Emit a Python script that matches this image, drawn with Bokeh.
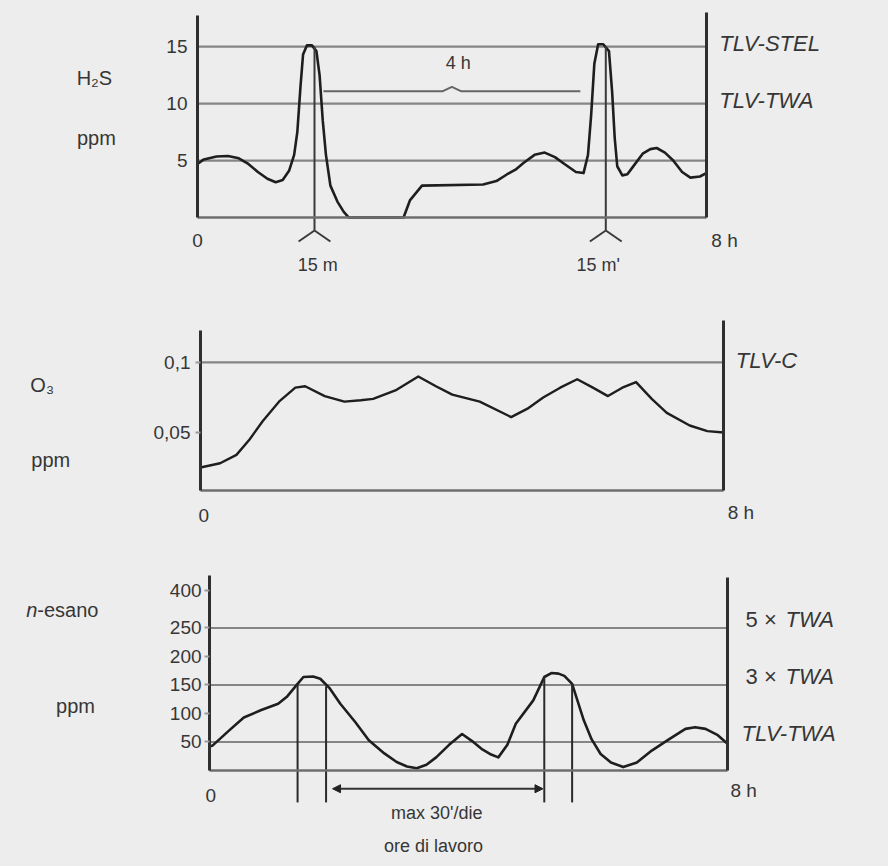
from bokeh.plotting import figure
from bokeh.layouts import column
from bokeh.models import (Label, Arrow, NormalHead, FixedTicker, Range1d, LinearAxis)
from bokeh.embed import file_html
from bokeh.resources import INLINE

# ---------------- data ----------------
# H2S panel (hours, ppm)
h2s_hours = [0, 0.1, 0.3, 0.48, 0.65, 0.8, 0.95, 1.1, 1.23, 1.34, 1.44, 1.52, 1.57, 1.62,
             1.66, 1.72, 1.8, 1.87, 1.92, 1.97, 2.02, 2.09, 2.2, 2.3, 2.38, 3.24, 3.34,
             3.53, 4.49, 4.7, 4.87, 5.0, 5.13, 5.3, 5.46, 5.62, 5.77, 5.95, 6.07, 6.14,
             6.19, 6.24, 6.3, 6.38, 6.47, 6.52, 6.56, 6.6, 6.68, 6.76, 6.84, 7.0, 7.12,
             7.22, 7.35, 7.48, 7.62, 7.75, 7.9, 8.0]
h2s_ppm = [4.7, 5.1, 5.35, 5.4, 5.2, 4.7, 4.0, 3.4, 3.1, 3.3, 4.1, 5.5, 7.5, 11.5,
           14.3, 15.1, 15.1, 14.6, 12.5, 8.5, 5.5, 2.8, 1.4, 0.5, 0.0, 0.0, 1.5,
           2.8, 2.9, 3.2, 3.8, 4.2, 4.8, 5.5, 5.7, 5.3, 4.7, 4.0, 3.9, 5.5,
           9.0, 13.5, 15.2, 15.2, 14.6, 11.0, 7.0, 4.5, 3.7, 3.8, 4.4, 5.6, 6.0,
           6.1, 5.7, 5.0, 4.0, 3.5, 3.6, 3.9]
h2s_ticks = [5, 10, 15]
h2s_limits = [15, 10, 5]
h2s_limit_names = ["TLV-STEL", "TLV-TWA", ""]
h2s_mark_hours = [1.84, 6.42]
h2s_mark_top = [15, 15]
h2s_mark_names = ["15 m", "15 m'"]
h2s_mark_label_hours = [1.89, 6.3]
h2s_interval = [1.98, 6.02]
h2s_interval_level = 11.07
h2s_interval_name = "4 h"

# O3 panel (hours, ppm)
o3_hours = [0, 0.3, 0.55, 0.75, 0.95, 1.2, 1.45, 1.6, 1.9, 2.2, 2.45, 2.64, 2.98, 3.33,
            3.6, 3.85, 4.27, 4.75, 5.0, 5.24, 5.5, 5.76, 6.0, 6.23, 6.45, 6.66, 6.9,
            7.13, 7.48, 7.75, 8.0]
o3_ppm = [0.025, 0.028, 0.034, 0.045, 0.058, 0.072, 0.082, 0.083, 0.076, 0.072, 0.073,
          0.074, 0.080, 0.090, 0.083, 0.077, 0.072, 0.061, 0.067, 0.075, 0.082, 0.088,
          0.082, 0.076, 0.082, 0.086, 0.074, 0.064, 0.055, 0.051, 0.050]
o3_ticks = [0.05, 0.1]
o3_tick_labels = ["0,05", "0,1"]
o3_limit = 0.1
o3_limit_name = "TLV-C"

# n-esano panel (hours, ppm)
nes_hours = [0, 0.05, 0.3, 0.53, 0.8, 1.06, 1.2, 1.36, 1.45, 1.6, 1.71, 1.85, 2.02, 2.25,
             2.46, 2.7, 2.89, 3.05, 3.2, 3.35, 3.5, 3.7, 3.9, 4.05, 4.2, 4.35, 4.46,
             4.6, 4.73, 5.0, 5.17, 5.28, 5.39, 5.48, 5.6, 5.78, 5.9, 6.04, 6.2, 6.39,
             6.6, 6.83, 7.1, 7.35, 7.5, 7.66, 7.85, 8.0]
nes_ppm = [42, 44, 70, 93, 106, 117, 130, 152, 164, 165, 161, 145, 117, 85,
           53, 30, 15, 7, 4, 10, 23, 45, 64, 52, 38, 28, 23,
           45, 82, 123, 164, 171, 170, 166, 152, 88, 55, 29, 14, 6,
           14, 35, 55, 73, 76, 73, 62, 47]
nes_ticks = [50, 100, 150, 200, 250, 316]
nes_tick_labels = ["50", "100", "150", "200", "250", "400"]
nes_limits = [250, 150, 50]
nes_limit_prefix = ["5 ×", "3 ×", ""]
nes_limit_names = ["TWA", "TWA", "TLV-TWA"]
nes_mark_hours = [1.36, 1.80, 5.17, 5.60]
nes_mark_top = [152, 148, 164, 152]
nes_window = [1.9, 5.15]
nes_window_name = "max 30'/die"
x_title = "ore di lavoro"

# ---------------- style ----------------
BG = "#ededed"
INK = "#1e1e1e"
AXIS = "#2e2e2e"
BASE = "#6e6e6e"
REF = "#858585"
TXT = "#363636"
FONT = "Liberation Sans"
W = 888


def make_fig(height, xr, yr):
    p = figure(width=W, height=height, x_range=Range1d(*xr), y_range=Range1d(*yr),
               x_axis_type=None, y_axis_type=None,
               min_border=0, min_border_left=0, min_border_right=0, min_border_top=0,
               min_border_bottom=0, toolbar_location=None, output_backend="svg",
               background_fill_color=BG, border_fill_color=BG, outline_line_color=None)
    p.grid.visible = False
    return p


def add_axes(p, y0, ytop_left, ytop_right, ticks, overrides, tick_out, standoff):
    base = LinearAxis(fixed_location=y0, bounds=(0, 8), ticker=FixedTicker(ticks=[]),
                      major_label_text_font_size="0px", axis_line_color=BASE,
                      axis_line_width=2.5, major_tick_line_color=None,
                      minor_tick_line_color=None)
    p.add_layout(base, "below")
    left = LinearAxis(fixed_location=0, bounds=(y0, ytop_left),
                      ticker=FixedTicker(ticks=ticks), major_label_overrides=overrides,
                      axis_line_color=AXIS, axis_line_width=3,
                      major_tick_out=tick_out, major_tick_in=0,
                      major_tick_line_color="#9a9a9a" if tick_out else None,
                      major_tick_line_width=2, minor_tick_line_color=None,
                      major_label_standoff=standoff, major_label_text_font=FONT,
                      major_label_text_font_size="19px", major_label_text_color=TXT)
    p.add_layout(left, "left")
    right = LinearAxis(fixed_location=8, bounds=(y0, ytop_right),
                       ticker=FixedTicker(ticks=[]), major_label_text_font_size="0px",
                       axis_line_color=AXIS, axis_line_width=3,
                       major_tick_line_color=None, minor_tick_line_color=None)
    p.add_layout(right, "right")


def label(p, x, y, text, size="19px", align="center", style="normal", xoff=0, yoff=0):
    p.add_layout(Label(x=x, y=y, text=text, text_font=FONT, text_font_size=size,
                       text_color=TXT, text_align=align, text_baseline="middle",
                       text_font_style=style, x_offset=xoff, y_offset=yoff))


def segs(p, x0, y0, x1, y1, color=INK, width=2.2):
    p.segment(x0=x0, y0=y0, x1=x1, y1=y1, line_color=color, line_width=width)


# ---------------- panel 1: H2S ----------------
p1 = make_fig(290, (-3.097, 10.865), (-6.40, 19.04))
for lv in h2s_limits:
    p1.segment(x0=[0], y0=[lv], x1=[8], y1=[lv], line_color=REF, line_width=2.2)
add_axes(p1, 0, 17.7, 17.95, h2s_ticks, {}, 0, 10)
for lv, nm in zip(h2s_limits, h2s_limit_names):
    if nm:
        label(p1, 8, lv, nm, size="22px", align="left", style="italic", xoff=13, yoff=3)
p1.line(h2s_hours, h2s_ppm, line_color=INK, line_width=2.6, line_join="round")
mx0, my0, mx1, my1 = [], [], [], []
for h, t in zip(h2s_mark_hours, h2s_mark_top):
    mx0 += [h, h - 0.25, h]
    my0 += [t, -2.1, -1.14]
    mx1 += [h, h, h + 0.25]
    my1 += [-1.14, -1.14, -2.1]
segs(p1, mx0, my0, mx1, my1, color="#3a3a3a", width=2)
for h, nm in zip(h2s_mark_label_hours, h2s_mark_names):
    label(p1, h, -4.2, nm, size="18px")
mid = (h2s_interval[0] + h2s_interval[1]) / 2
p1.line([h2s_interval[0], mid - 0.15, mid, mid + 0.15, h2s_interval[1]],
        [h2s_interval_level, h2s_interval_level, h2s_interval_level + 0.4,
         h2s_interval_level, h2s_interval_level], line_color="#666666", line_width=2)
label(p1, mid + 0.1, 13.6, h2s_interval_name, size="18px")
label(p1, -1.62, 12.2, "H₂S", size="20px")
label(p1, -1.59, 7.0, "ppm", size="20px")
label(p1, 0, -2.0, "0")
label(p1, 8, -2.0, "8 h", align="left", xoff=5)

# ---------------- panel 2: O3 ----------------
o3_base = 0.0086
p2 = make_fig(240, (-3.058, 10.52), (-0.02, 0.1514))
p2.segment(x0=[0], y0=[o3_limit], x1=[8], y1=[o3_limit], line_color=REF, line_width=2.2)
add_axes(p2, o3_base, 0.123, 0.13, o3_ticks,
         {t: s for t, s in zip(o3_ticks, o3_tick_labels)}, 5, 5)
label(p2, 8, o3_limit, o3_limit_name, size="22px", align="left", style="italic", xoff=12, yoff=2)
p2.line(o3_hours, o3_ppm, line_color=INK, line_width=2.4, line_join="round")
label(p2, -2.42, 0.0836, "O₃", size="20px")
label(p2, -2.29, 0.03, "ppm", size="20px")
label(p2, 0.05, -0.0093, "0")
label(p2, 8, -0.0071, "8 h", align="left", xoff=4)

# ---------------- panel 3: n-esano ----------------
p3 = make_fig(334, (-3.228, 10.486), (-164.9, 421))
for lv in nes_limits:
    p3.segment(x0=[0], y0=[lv], x1=[8], y1=[lv], line_color=REF, line_width=2.2)
add_axes(p3, 0, 342, 339, nes_ticks,
         {t: s for t, s in zip(nes_ticks, nes_tick_labels)}, 5, 3)
for lv, pre, nm in zip(nes_limits, nes_limit_prefix, nes_limit_names):
    if pre:
        label(p3, 8, lv, pre, size="22px", align="left", xoff=18, yoff=8)
        label(p3, 8, lv, nm, size="22px", align="left", style="italic", xoff=58, yoff=8)
    else:
        label(p3, 8, lv, nm, size="22px", align="left", style="italic", xoff=14, yoff=8)
p3.line(nes_hours, nes_ppm, line_color=INK, line_width=2.6, line_join="round")
segs(p3, nes_mark_hours, nes_mark_top, nes_mark_hours, [-56] * len(nes_mark_hours),
     color="#2a2a2a", width=2)
p3.add_layout(Arrow(x_start=nes_window[0], y_start=-32, x_end=nes_window[1], y_end=-32,
                    start=NormalHead(size=8, fill_color="#222222", line_color="#222222"),
                    end=NormalHead(size=8, fill_color="#222222", line_color="#222222"),
                    line_color="#333333", line_width=2))
label(p3, 3.51, -74, nes_window_name, size="18px")
label(p3, 3.46, -132, x_title, size="18px")
label(p3, -2.66, 281, "n", align="right", style="italic", size="20px")
label(p3, -2.66, 281, "-esano", align="left", size="20px")
label(p3, -2.07, 114, "ppm", size="20px")
label(p3, 0.02, -44, "0")
label(p3, 8, -35, "8 h", align="left", xoff=3)

page = column(p1, p2, p3, spacing=0)
html = file_html(page, INLINE)
html = html.replace("<head>", "<head><style>body{background:#ededed;}</style>", 1)
open("out.html", "w").write(html)
